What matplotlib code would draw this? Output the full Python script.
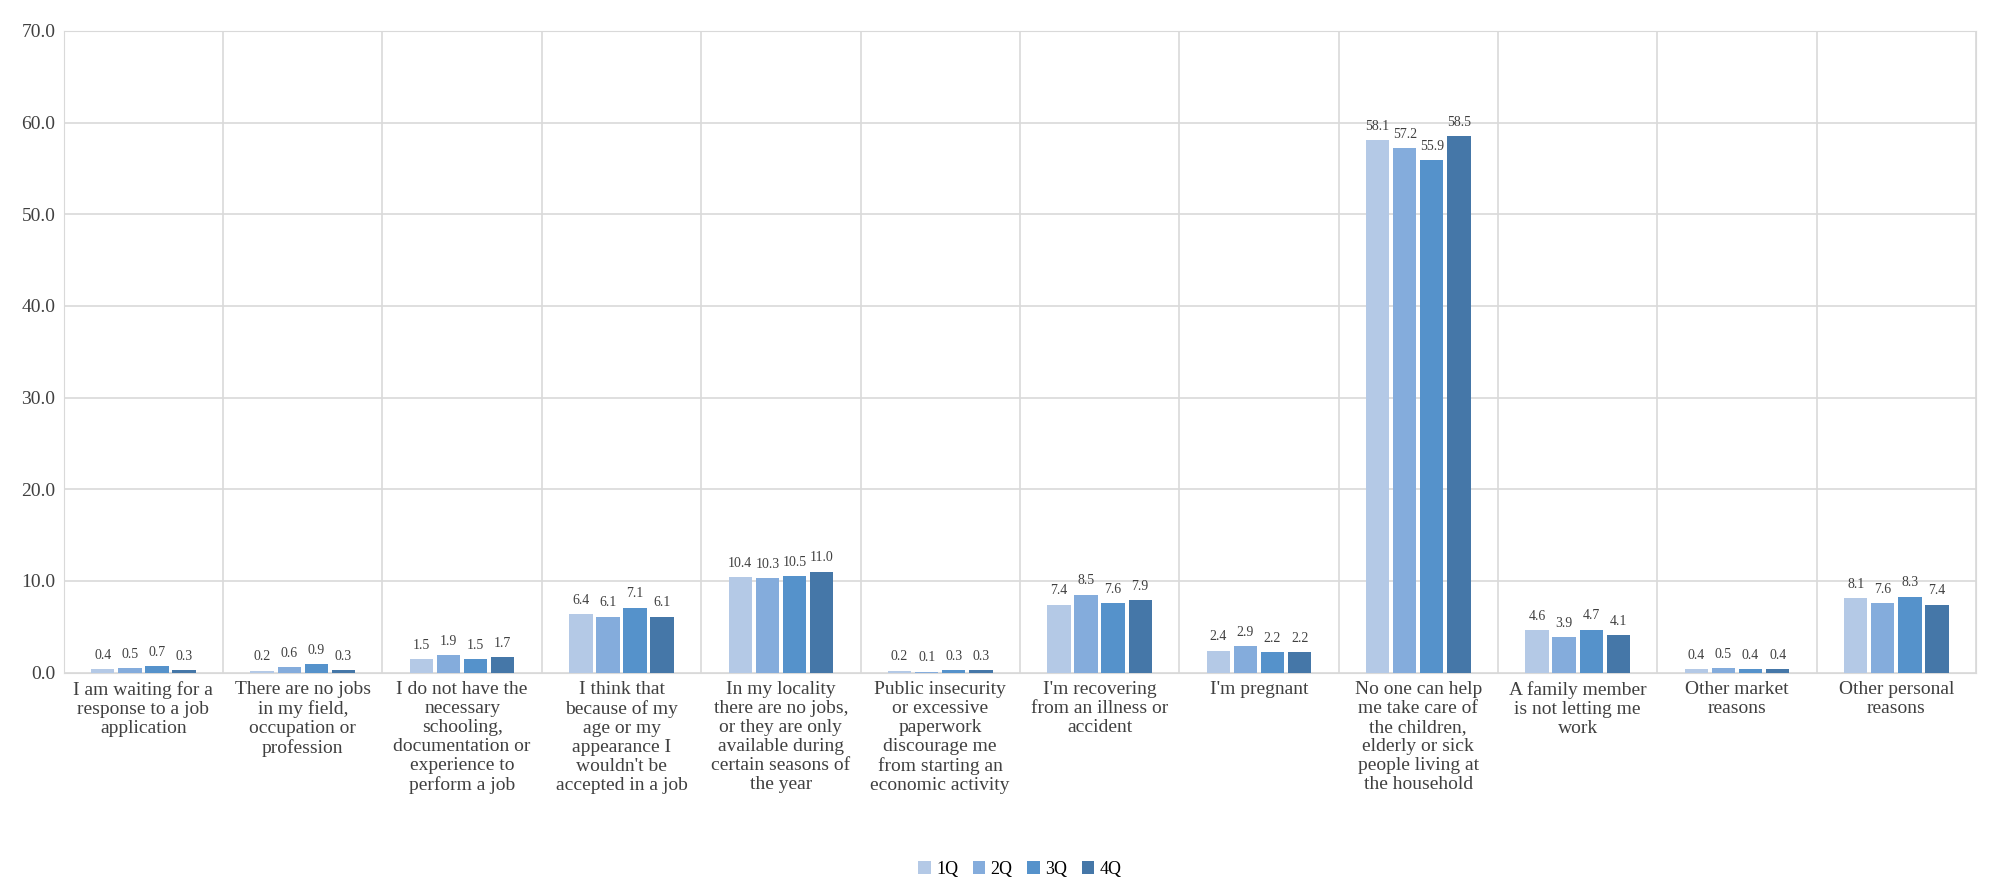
import numpy as np
import matplotlib.pyplot as plt

plt.rcParams['font.family'] = ['Liberation Serif', 'DejaVu Serif']

categories = [
    "I am waiting for a\nresponse to a job\napplication",
    "There are no jobs\nin my field,\noccupation or\nprofession",
    "I do not have the\nnecessary\nschooling,\ndocumentation or\nexperience to\nperform a job",
    "I think that\nbecause of my\nage or my\nappearance I\nwouldn't be\naccepted in a job",
    "In my locality\nthere are no jobs,\nor they are only\navailable during\ncertain seasons of\nthe year",
    "Public insecurity\nor excessive\npaperwork\ndiscourage me\nfrom starting an\neconomic activity",
    "I'm recovering\nfrom an illness or\naccident",
    "I'm pregnant",
    "No one can help\nme take care of\nthe children,\nelderly or sick\npeople living at\nthe household",
    "A family member\nis not letting me\nwork",
    "Other market\nreasons",
    "Other personal\nreasons",
]
series_names = ["1Q", "2Q", "3Q", "4Q"]
q1 = [0.4, 0.2, 1.5, 6.4, 10.4, 0.2, 7.4, 2.4, 58.1, 4.6, 0.4, 8.1]
q2 = [0.5, 0.6, 1.9, 6.1, 10.3, 0.1, 8.5, 2.9, 57.2, 3.9, 0.5, 7.6]
q3 = [0.7, 0.9, 1.5, 7.1, 10.5, 0.3, 7.6, 2.2, 55.9, 4.7, 0.4, 8.3]
q4 = [0.3, 0.3, 1.7, 6.1, 11.0, 0.3, 7.9, 2.2, 58.5, 4.1, 0.4, 7.4]
colors = ['#B4C9E6', '#84ACDC', '#5592CB', '#4577A8']

fig = plt.figure(figsize=(19.92, 8.85), dpi=100)
ax = fig.add_axes([0.032, 0.24, 0.96, 0.725])

x = np.arange(len(categories))
w = 0.17
for i, (vals, name) in enumerate(zip([q1, q2, q3, q4], series_names)):
    pos = x + (i - 1.5) * w
    bars = ax.bar(pos, vals, w * 0.86, color=colors[i], label=name, zorder=3)
    for xp, v in zip(pos, vals):
        ax.text(xp, v + 0.8, f"{v:.1f}", ha='center', va='bottom', fontsize=10, color='#404040')

ax.set_xlim(-0.5, len(categories) - 0.5)
ax.set_ylim(0, 70)
ax.set_yticks(np.arange(0, 71, 10))
ax.set_yticklabels([f"{v:.1f}" for v in np.arange(0, 71, 10)], fontsize=14, color='#404040')
ax.set_xticks(x)
ax.set_xticklabels(categories, fontsize=14, color='#404040', va='top', linespacing=1.15)
ax.tick_params(length=0, pad=6)
ax.set_xticks(np.arange(-0.5, len(categories), 1), minor=True)
ax.grid(True, axis='y', color='#D9D9D9', linewidth=1.2, zorder=0)
ax.grid(True, axis='x', which='minor', color='#D9D9D9', linewidth=1.2, zorder=0)
ax.tick_params(which='minor', length=0)
for s in ax.spines.values():
    s.set_color('#D9D9D9')

ax.legend(loc='lower center', bbox_to_anchor=(0.5, -0.345), ncol=4, frameon=False,
          fontsize=13, handlelength=0.7, handleheight=0.7, columnspacing=0.8, handletextpad=0.3)

fig.savefig('out.png', dpi=100)
